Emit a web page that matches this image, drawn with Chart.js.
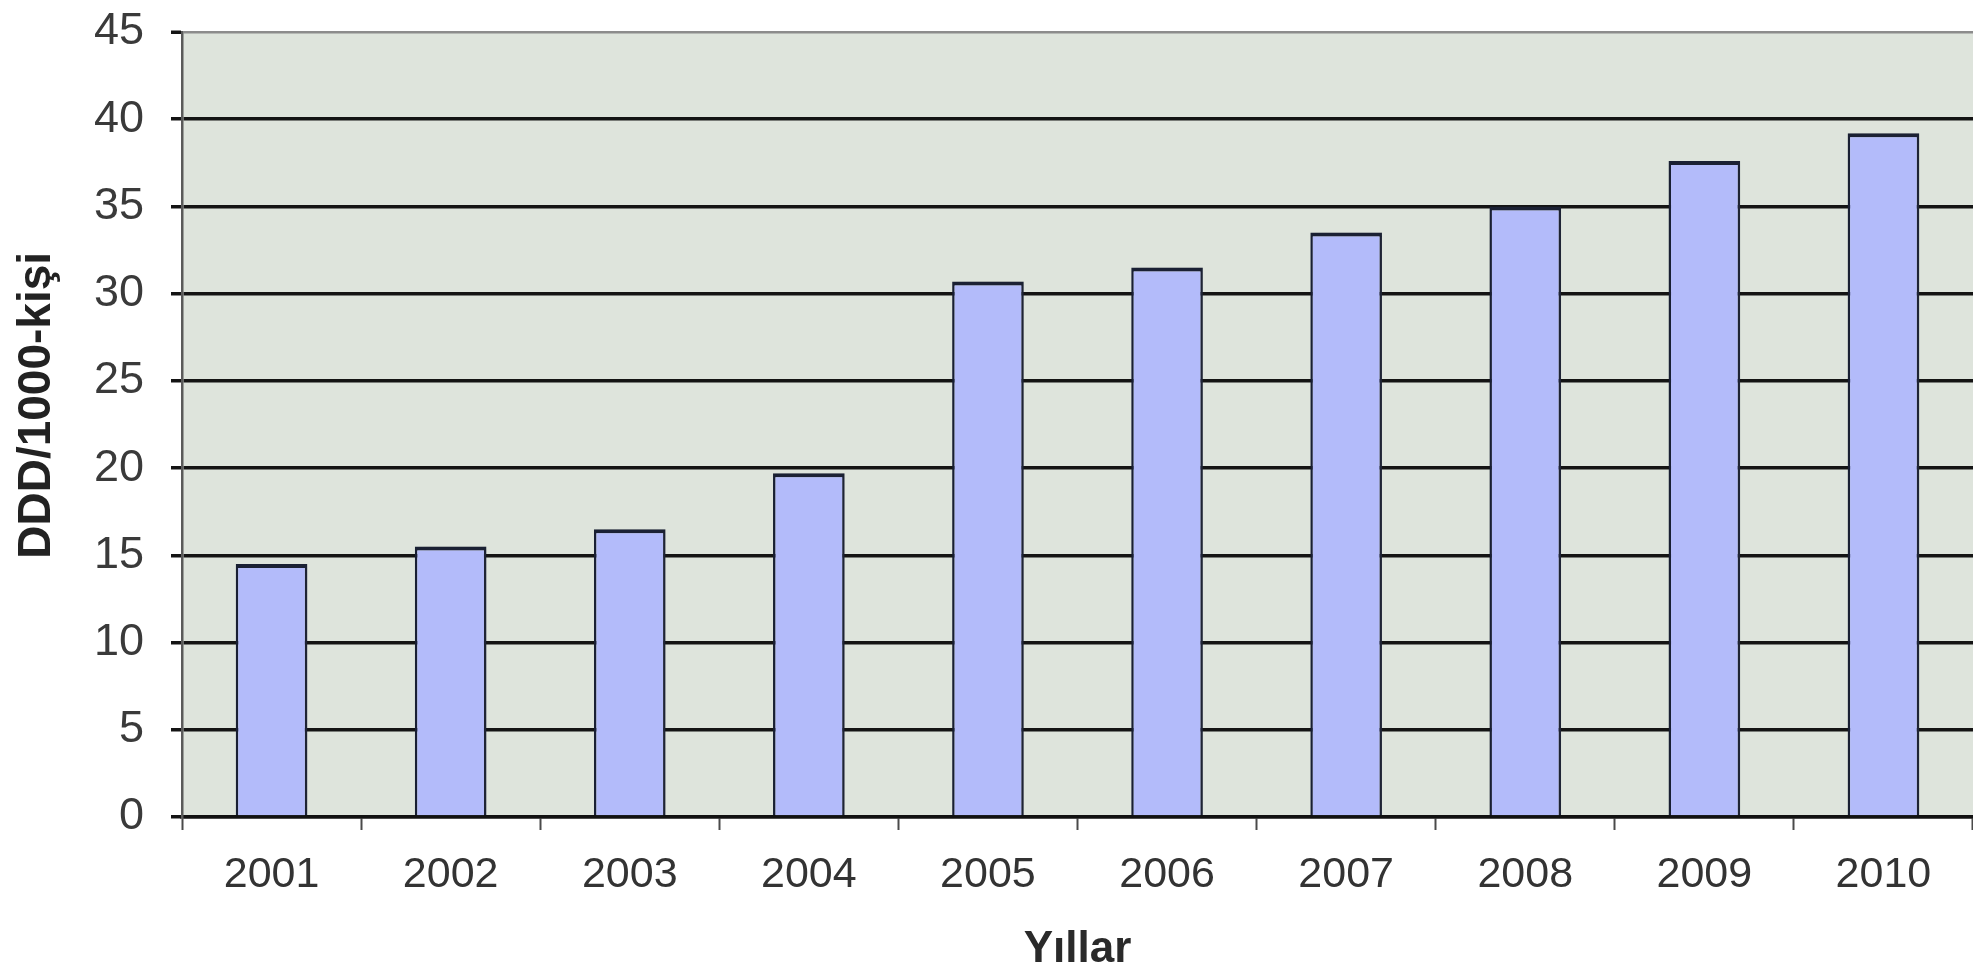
<!DOCTYPE html>
<html lang="tr">
<head>
<meta charset="utf-8">
<title>DDD/1000-kişi, 2001–2010</title>
<script src="https://cdn.jsdelivr.net/npm/chart.js@4.4.1/dist/chart.umd.min.js"></script>
<style>
  html, body { margin: 0; padding: 0; background: #ffffff; overflow: hidden; }
  canvas { display: block; }
</style>
</head>
<body>
<canvas id="chart" width="1973" height="972"></canvas>
<script>
// Yearly consumption, DDD per 1000 people
const years = ['2001', '2002', '2003', '2004', '2005', '2006', '2007', '2008', '2009', '2010'];
const dddValues = [14.5, 15.5, 16.5, 19.7, 30.7, 31.5, 33.5, 35.0, 37.6, 39.2];
const yMin = 0;
const yMax = 45;
const yStep = 5;
const xTitle = 'Yıllar';
const yTitle = 'DDD/1000-kişi';

const FONT = '"Liberation Sans", Arial, Helvetica, sans-serif';

// Grey-green plot background
const plotBackground = {
  id: 'plotBackground',
  beforeDraw(chart) {
    const { ctx, chartArea: a } = chart;
    ctx.save();
    ctx.fillStyle = '#dee4dc';
    ctx.fillRect(a.left, a.top, a.right - a.left, a.bottom - a.top);
    ctx.restore();
  }
};

// Soft drop shadow to the right of the bars
const barShadow = {
  id: 'barShadow',
  beforeDatasetsDraw(chart) {
    const ctx = chart.ctx;
    ctx.save();
    ctx.shadowColor = 'rgba(60, 60, 60, 0.18)';
    ctx.shadowBlur = 10;
    ctx.shadowOffsetX = 7;
    ctx.shadowOffsetY = 0;
  },
  afterDatasetsDraw(chart) {
    chart.ctx.restore();
  }
};

new Chart(document.getElementById('chart'), {
  type: 'bar',
  data: {
    labels: years,
    datasets: [{
      data: dddValues,
      backgroundColor: '#b3bbfa',
      borderColor: '#1a2034',
      borderWidth: { top: 4, left: 2.5, right: 2.5, bottom: 0 },
      borderSkipped: false,
      barPercentage: 0.4,
      categoryPercentage: 1.0
    }]
  },
  options: {
    responsive: false,
    animation: false,
    devicePixelRatio: 1,
    layout: { padding: { top: 32, right: 0, bottom: 0, left: 0 } },
    plugins: {
      legend: { display: false },
      tooltip: { enabled: false }
    },
    scales: {
      x: {
        afterFit(scale) {
          scale.height = 155;
          scale.paddingLeft = 0;
          scale.paddingRight = 0;
        },
        grid: {
          display: true,
          offset: true,
          drawOnChartArea: false,
          drawTicks: true,
          tickLength: 13,
          tickColor: '#4a4a4a',
          tickWidth: 2
        },
        border: { display: true, color: '#111111', width: 3.5 },
        ticks: {
          color: '#333333',
          padding: 18,
          maxRotation: 0,
          font: { family: FONT, size: 43, lineHeight: 1.28 }
        },
        title: {
          display: true,
          text: xTitle,
          color: '#2a2a2a',
          padding: { top: 0, bottom: 0 },
          font: { family: FONT, size: 44, weight: 'bold', lineHeight: 1 }
        }
      },
      y: {
        min: yMin,
        max: yMax,
        afterFit(scale) {
          scale.width = 182;
          scale.paddingTop = 0;
          scale.paddingBottom = 0;
        },
        grid: {
          display: true,
          drawTicks: true,
          tickLength: 11,
          color: (c) => (c.tick && c.tick.value === yMax ? '#8c8c8c' : '#141414'),
          lineWidth: (c) => (c.tick && c.tick.value === yMax ? 2.5 : 3.5),
          tickColor: '#141414',
          tickWidth: 3.5
        },
        border: { display: true, color: '#5a5a5a', width: 2.5 },
        ticks: {
          stepSize: yStep,
          color: '#3a3a3a',
          padding: 27,
          font: { family: FONT, size: 45 }
        },
        title: {
          display: true,
          // leading spaces lift the rotated title slightly above the plot's midline
          text: '   ' + yTitle,
          color: '#222222',
          padding: { top: 14, bottom: 0 },
          font: { family: FONT, size: 46, weight: 'bold', lineHeight: 1 }
        }
      }
    }
  },
  plugins: [plotBackground, barShadow]
});
</script>
</body>
</html>
